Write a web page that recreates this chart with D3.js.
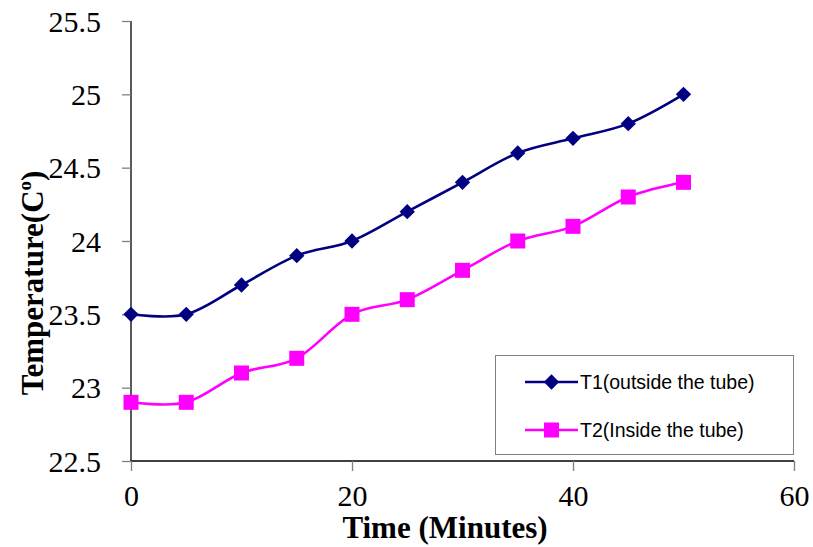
<!DOCTYPE html>
<html>
<head>
<meta charset="utf-8">
<script src="https://cdn.jsdelivr.net/npm/d3@7"></script>
<style>
  html, body { margin: 0; padding: 0; background: #fff; }
  svg { display: block; }
  .tick text { font-family: "Liberation Serif", "Times New Roman", serif; }
</style>
</head>
<body>
<svg id="chart" width="813" height="547"></svg>
<script>
// Temperature readings every 5 minutes
const minutes = [0, 5, 10, 15, 20, 25, 30, 35, 40, 45, 50];
const t1Outside = [23.5, 23.5, 23.7, 23.9, 24.0, 24.2, 24.4, 24.6, 24.7, 24.8, 25.0];
const t2Inside  = [22.9, 22.9, 23.1, 23.2, 23.5, 23.6, 23.8, 24.0, 24.1, 24.3, 24.4];
const xTicks = [0, 20, 40, 60];
const yTicks = [22.5, 23, 23.5, 24, 24.5, 25, 25.5];
const seriesNames = ["T1(outside the tube)", "T2(Inside the tube)"];

const svg = d3.select("#chart");
const m = { left: 131, right: 794, top: 21, bottom: 461 };

const x = d3.scaleLinear().domain([0, 60]).range([m.left, m.right]);
const y = d3.scaleLinear().domain([22.5, 25.5]).range([m.bottom, m.top]);

const serif = "'Liberation Serif', 'Times New Roman', serif";
const sans = "'Liberation Sans', Arial, sans-serif";

// Y axis
const yAxis = svg.append("g")
  .attr("transform", `translate(${m.left},0)`)
  .call(d3.axisLeft(y).tickValues(yTicks).tickSize(9).tickPadding(21)
    .tickFormat(d => d3.format("")(d)));
yAxis.attr("font-family", serif);
yAxis.select(".domain").attr("stroke", "#000").attr("stroke-width", 1.3)
  .attr("d", `M0,${m.top}V${m.bottom}`);
yAxis.selectAll(".tick line").attr("stroke", "#808080").attr("stroke-width", 1.3);
yAxis.selectAll(".tick text").style("font-family", serif).style("font-size", "30px")
  .attr("fill", "#000").attr("dy", "0.34em");

// X axis
const xAxis = svg.append("g")
  .attr("transform", `translate(0,${m.bottom})`)
  .call(d3.axisBottom(x).tickValues(xTicks).tickSize(10).tickPadding(14));
xAxis.attr("font-family", serif);
xAxis.select(".domain").attr("stroke", "#000").attr("stroke-width", 1.3)
  .attr("d", `M${m.left},0H${m.right}`);
xAxis.selectAll(".tick line").attr("stroke", "#808080").attr("stroke-width", 1.3);
xAxis.selectAll(".tick text").style("font-family", serif).style("font-size", "30px")
  .attr("fill", "#000");

// Axis titles
svg.append("text")
  .attr("x", 445).attr("y", 538)
  .attr("text-anchor", "middle")
  .style("font-family", serif).style("font-size", "31px").style("font-weight", "bold")
  .text("Time (Minutes)");

const yTitle = svg.append("text")
  .attr("transform", "translate(43,283) rotate(-90)")
  .attr("text-anchor", "middle")
  .style("font-family", serif).style("font-size", "31px").style("font-weight", "bold");
yTitle.append("tspan").text("Temperature(C");
yTitle.append("tspan").style("font-size", "19px").attr("dy", -12).text("o");
yTitle.append("tspan").attr("dy", 12).text(")");

// Series
const series = [
  { name: seriesNames[0], values: t1Outside, color: "#000080", shape: "diamond" },
  { name: seriesNames[1], values: t2Inside, color: "#FF00FF", shape: "square" }
];

const line = d3.line()
  .x(d => x(d[0]))
  .y(d => y(d[1]))
  .curve(d3.curveCardinal.tension(0));

const diamond = d3.symbol().type(d3.symbolDiamond2).size(150);
const square = d3.symbol().type(d3.symbolSquare).size(225);

series.forEach(s => {
  const pts = minutes.map((t, i) => [t, s.values[i]]);
  svg.append("path")
    .datum(pts)
    .attr("fill", "none")
    .attr("stroke", s.color)
    .attr("stroke-width", 2.6)
    .attr("d", line);
  svg.append("g").selectAll("path")
    .data(pts)
    .join("path")
    .attr("transform", d => `translate(${x(d[0])},${y(d[1])})`)
    .attr("d", s.shape === "diamond" ? diamond : square)
    .attr("fill", s.color);
});

// Legend
const legend = svg.append("g");
legend.append("rect")
  .attr("x", 495.5).attr("y", 355.5).attr("width", 298).attr("height", 99)
  .attr("fill", "#fff").attr("stroke", "#808080").attr("stroke-width", 1);

series.forEach((s, i) => {
  const ly = 382 + i * 48;
  legend.append("line")
    .attr("x1", 525).attr("x2", 578).attr("y1", ly).attr("y2", ly)
    .attr("stroke", s.color).attr("stroke-width", 2.6);
  legend.append("path")
    .attr("transform", `translate(551.5,${ly})`)
    .attr("d", s.shape === "diamond" ? diamond : square)
    .attr("fill", s.color);
  legend.append("text")
    .attr("x", 580).attr("y", ly).attr("dy", "0.35em")
    .style("font-family", sans).style("font-size", "19.5px").attr("fill", "#000")
    .text(s.name);
});
</script>
</body>
</html>
